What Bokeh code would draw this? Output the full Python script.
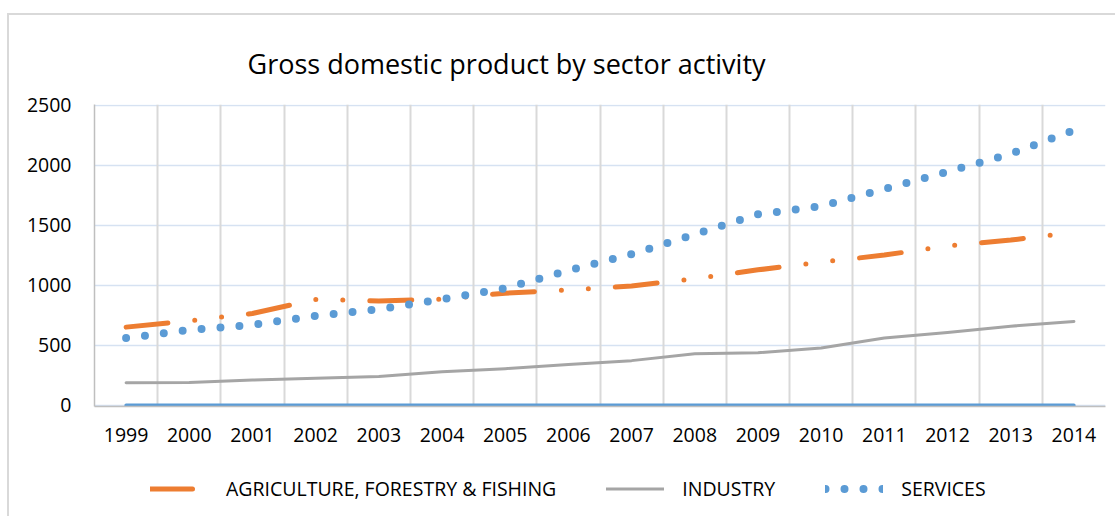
from bokeh.plotting import figure
from bokeh.layouts import column
from bokeh.models import FixedTicker, Grid, Legend, LegendItem, ColumnDataSource
from bokeh.embed import file_html
from bokeh.resources import INLINE

years = ["1999", "2000", "2001", "2002", "2003", "2004", "2005", "2006",
         "2007", "2008", "2009", "2010", "2011", "2012", "2013", "2014"]
agriculture = [651, 703, 765, 882, 868, 884, 934, 960, 994, 1053, 1128, 1192, 1251, 1327, 1376, 1440]
industry = [188, 190, 210, 225, 240, 280, 305, 340, 372, 430, 438, 478, 560, 607, 659, 698]
services = [560, 627, 670, 745, 800, 883, 975, 1122, 1258, 1424, 1590, 1659, 1800, 1945, 2094, 2290]
zero_series = [0, 0, 0, 0, 0, 0, 0, 0, 0, 0, 0, 0, 0, 0, 0, 0]
y_ticks = [0, 500, 1000, 1500, 2000, 2500]
series_names = ["AGRICULTURE, FORESTRY & FISHING", "INDUSTRY", "SERVICES"]

FONT = "Open Sans"
BORDER = "2px solid #D9D9D9"
x = list(range(len(years)))
src = ColumnDataSource(dict(x=x, agri=agriculture, ind=industry, serv=services, zero=zero_series))

styles = {
    "agri": dict(line_color="#ED7D31", line_width=5, line_dash="42 27 0 27 0 27",
                 line_cap="round", line_join="round"),
    "ind": dict(line_color="#A5A5A5", line_width=3, line_cap="round", line_join="round"),
    "serv": dict(line_color="#5B9BD5", line_width=8, line_dash="0 19",
                 line_cap="round", line_join="round"),
}

p = figure(width=1108, height=447, x_range=(-0.5, len(years) - 0.5), y_range=(-10, 2505),
           output_backend="svg", toolbar_location=None,
           min_border_left=85, min_border_right=12, min_border_top=89, min_border_bottom=56)
p.margin = (13, 0, 0, 7)
p.styles = {"border-top": BORDER, "border-left": BORDER}
p.outline_line_color = None

p.title.text = "Gross domestic product by sector activity"
p.title.align = "left"
p.title.offset = 153
p.title.text_font = FONT
p.title.text_font_size = "27px"
p.title.text_font_style = "normal"
p.title.text_color = "#000000"
p.title.standoff = 45

# grids
p.xgrid.visible = False
p.ygrid.ticker = FixedTicker(ticks=y_ticks)
p.ygrid.grid_line_color = "#D6E2F2"
p.ygrid.grid_line_width = 1.5
vgrid = Grid(dimension=0, ticker=FixedTicker(ticks=[i + 0.5 for i in x]),
             grid_line_color="#D9D9D9", grid_line_width=2)
p.add_layout(vgrid)

# axes
for ax in (p.xaxis[0], p.yaxis[0]):
    ax.major_tick_line_color = None
    ax.minor_tick_line_color = None
    ax.axis_line_color = "#BFBFBF"
    ax.axis_line_width = 1.5
    ax.major_label_text_font = FONT
    ax.major_label_text_font_size = "19.5px"
    ax.major_label_text_color = "#000000"
p.xaxis.ticker = FixedTicker(ticks=x)
p.xaxis.major_label_overrides = {i: years[i] for i in x}
p.xaxis.major_label_standoff = 15
p.yaxis.ticker = FixedTicker(ticks=y_ticks)
p.yaxis.major_label_standoff = 17

p.line("x", "agri", source=src, **styles["agri"])
p.line("x", "ind", source=src, **styles["ind"])
p.line("x", "serv", source=src, **styles["serv"])
p.line("x", "zero", source=src, line_color="#5B9BD5", line_width=3.5, line_cap="round")

# legend strip below the chart (its lines lie outside its own visible range)
lg = figure(width=1108, height=56, x_range=(0, 1), y_range=(-3, -2),
            output_backend="svg", toolbar_location=None,
            x_axis_type=None, y_axis_type=None,
            min_border_left=0, min_border_right=0, min_border_top=0, min_border_bottom=0)
lg.margin = (0, 0, 0, 7)
lg.styles = {"border-left": BORDER}
lg.outline_line_color = None
lg.xgrid.visible = False
lg.ygrid.visible = False
proxies = [lg.line("x", k, source=src, **styles[k]) for k in ("agri", "ind", "serv")]
legend = Legend(items=[LegendItem(label=n, renderers=[r]) for n, r in zip(series_names, proxies)],
                orientation="horizontal", location="left",
                glyph_width=58, glyph_height=20, label_standoff=18, spacing=50,
                label_text_font=FONT, label_text_font_size="19.5px", label_text_color="#000000",
                border_line_color=None, background_fill_alpha=0, margin=56, padding=8)
lg.add_layout(legend, "center")

layout = column(p, lg, spacing=0)
open("out.html", "w").write(file_html(layout, INLINE))
